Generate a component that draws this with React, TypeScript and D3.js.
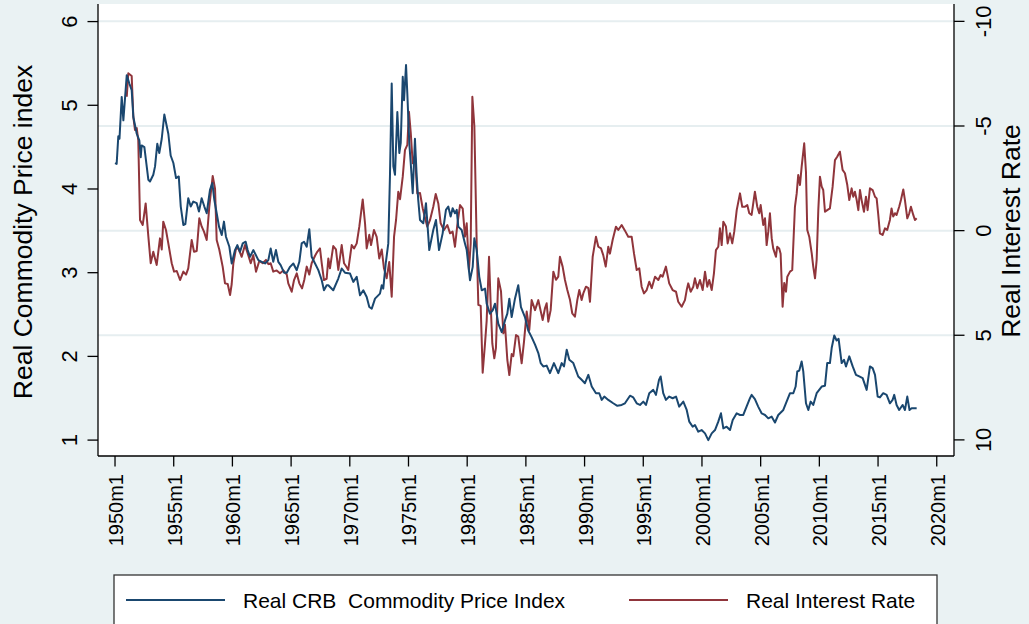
import React from "react";
import * as d3 from "d3";

// Real CRB Commodity Price Index (left axis)
const crbDates = [1950.00,1950.14,1950.28,1950.38,1950.57,1950.71,1951.00,1951.22,1951.42,1951.56,1951.85,1952.07,1952.19,1952.27,1952.50,1952.84,1952.98,1953.26,1953.41,1953.60,1953.77,1953.98,1954.20,1954.54,1954.74,1954.97,1955.20,1955.43,1955.60,1955.82,1955.99,1956.24,1956.45,1956.67,1956.96,1957.15,1957.38,1957.61,1957.81,1958.09,1958.29,1958.46,1958.66,1958.86,1959.09,1959.28,1959.45,1959.74,1959.94,1960.22,1960.42,1960.65,1960.88,1961.13,1961.30,1961.50,1961.78,1961.93,1962.21,1962.50,1962.78,1963.06,1963.26,1963.48,1963.71,1963.91,1964.11,1964.40,1964.63,1964.91,1965.19,1965.48,1965.70,1965.90,1966.10,1966.33,1966.55,1966.75,1967.04,1967.32,1967.61,1967.80,1968.03,1968.17,1968.59,1969.02,1969.31,1969.59,1970.02,1970.30,1970.59,1970.87,1971.15,1971.44,1971.66,1971.87,1972.15,1972.57,1972.72,1972.85,1973.06,1973.28,1973.42,1973.57,1973.71,1973.85,1974.05,1974.22,1974.34,1974.51,1974.62,1974.79,1974.90,1975.07,1975.19,1975.36,1975.55,1975.70,1975.83,1975.98,1976.26,1976.49,1976.77,1977.11,1977.34,1977.60,1977.91,1978.19,1978.39,1978.59,1978.76,1978.96,1979.11,1979.24,1979.53,1979.81,1979.96,1980.24,1980.47,1980.61,1980.81,1981.03,1981.24,1981.52,1981.66,1981.94,1982.17,1982.37,1982.65,1982.94,1983.22,1983.42,1983.59,1983.79,1984.07,1984.35,1984.58,1984.92,1985.20,1985.49,1985.78,1986.06,1986.26,1986.48,1986.77,1987.05,1987.39,1987.76,1988.05,1988.25,1988.48,1988.70,1989.04,1989.46,1989.75,1990.03,1990.32,1990.61,1990.97,1991.25,1991.46,1991.68,1992.02,1992.44,1992.79,1993.16,1993.44,1993.87,1994.15,1994.44,1994.72,1995.00,1995.23,1995.51,1995.85,1996.08,1996.34,1996.48,1996.70,1996.93,1997.21,1997.50,1997.79,1998.06,1998.41,1998.70,1998.92,1999.21,1999.40,1999.69,1999.97,2000.26,2000.54,2000.83,2001.11,2001.39,2001.62,2001.82,2002.10,2002.39,2002.62,2002.96,2003.24,2003.52,2003.80,2004.09,2004.23,2004.51,2004.79,2005.08,2005.37,2005.65,2005.94,2006.22,2006.50,2006.93,2007.21,2007.50,2007.78,2007.98,2008.12,2008.29,2008.49,2008.63,2008.86,2009.06,2009.26,2009.48,2009.77,2010.20,2010.48,2010.67,2010.90,2011.05,2011.27,2011.47,2011.64,2011.90,2012.10,2012.27,2012.55,2012.84,2013.12,2013.40,2013.69,2014.03,2014.31,2014.54,2014.74,2014.97,2015.16,2015.44,2015.73,2016.01,2016.24,2016.38,2016.58,2016.80,2017.09,2017.29,2017.49,2017.68,2017.86,2018.29];
const crbValues = [4.31,4.30,4.63,4.60,5.10,4.82,5.36,5.26,5.18,4.86,4.66,4.58,4.38,4.52,4.50,4.11,4.09,4.17,4.27,4.54,4.43,4.60,4.89,4.66,4.40,4.31,4.13,4.15,3.79,3.57,3.58,3.89,3.79,3.85,3.83,3.73,3.89,3.79,3.71,3.99,4.07,3.87,3.71,3.55,3.45,3.61,3.43,3.31,3.11,3.27,3.33,3.25,3.35,3.37,3.27,3.19,3.27,3.23,3.15,3.13,3.11,3.15,3.29,3.13,3.27,3.13,3.09,3.00,3.00,3.07,3.11,3.03,3.13,3.35,3.37,3.31,3.52,3.19,3.11,3.03,2.91,2.79,2.85,2.85,2.79,2.93,3.05,3.00,2.99,2.89,2.95,2.73,2.79,2.71,2.59,2.57,2.69,2.75,2.85,2.81,3.11,3.35,4.15,5.26,4.27,4.17,4.92,4.43,4.55,5.34,5.06,5.48,5.14,4.54,4.31,3.95,4.60,4.15,3.87,3.63,3.59,3.83,3.27,3.51,3.63,3.27,3.47,3.75,3.79,3.67,3.77,3.71,3.75,3.55,3.51,3.35,3.27,2.91,3.07,3.41,3.27,2.95,2.79,2.81,2.63,2.51,2.55,2.63,2.39,2.29,2.43,2.51,2.69,2.47,2.69,2.85,2.59,2.47,2.31,2.23,2.14,2.04,1.92,1.88,1.89,1.80,1.92,1.80,1.92,1.88,2.08,1.96,1.92,1.76,1.72,1.68,1.78,1.64,1.56,1.56,1.48,1.52,1.48,1.44,1.41,1.42,1.44,1.53,1.51,1.44,1.42,1.46,1.42,1.56,1.60,1.54,1.72,1.76,1.56,1.48,1.52,1.50,1.52,1.40,1.46,1.36,1.22,1.16,1.18,1.10,1.12,1.08,1.00,1.08,1.12,1.22,1.32,1.14,1.16,1.12,1.24,1.32,1.30,1.30,1.40,1.50,1.54,1.49,1.40,1.32,1.30,1.26,1.28,1.21,1.30,1.36,1.46,1.56,1.56,1.64,1.82,1.83,1.94,1.82,1.44,1.36,1.46,1.42,1.56,1.64,1.65,1.92,1.92,2.10,2.25,2.19,2.21,1.92,1.96,1.88,2.00,1.88,1.78,1.76,1.74,1.60,1.88,1.86,1.78,1.52,1.51,1.56,1.54,1.44,1.48,1.54,1.42,1.36,1.42,1.36,1.52,1.36,1.38,1.38];

// Real Interest Rate (right axis, reversed)
const rateDates = [1951.00,1951.13,1951.42,1951.56,1951.70,1951.85,1951.98,1952.13,1952.36,1952.61,1952.84,1953.04,1953.26,1953.55,1953.83,1953.98,1954.11,1954.34,1954.54,1954.83,1955.03,1955.26,1955.54,1955.82,1956.05,1956.24,1956.53,1956.73,1956.96,1957.18,1957.38,1957.58,1957.81,1958.03,1958.32,1958.52,1958.66,1958.88,1959.17,1959.37,1959.60,1959.80,1959.94,1960.08,1960.31,1960.50,1960.79,1961.07,1961.35,1961.56,1961.78,1962.01,1962.29,1962.58,1962.86,1963.06,1963.26,1963.48,1963.77,1964.05,1964.34,1964.63,1964.76,1965.05,1965.25,1965.48,1965.70,1965.93,1966.12,1966.33,1966.55,1966.75,1967.04,1967.23,1967.46,1967.61,1967.80,1968.03,1968.17,1968.31,1968.59,1968.82,1969.02,1969.31,1969.51,1969.68,1969.87,1970.16,1970.36,1970.59,1970.81,1971.10,1971.30,1971.44,1971.66,1971.81,1972.06,1972.29,1972.51,1972.72,1972.91,1973.14,1973.36,1973.57,1973.77,1973.94,1974.13,1974.28,1974.51,1974.70,1974.90,1975.04,1975.19,1975.36,1975.55,1975.75,1975.98,1976.21,1976.41,1976.60,1976.83,1977.11,1977.32,1977.54,1977.74,1978.02,1978.31,1978.54,1978.76,1978.96,1979.16,1979.39,1979.62,1979.81,1979.96,1980.15,1980.30,1980.44,1980.61,1980.81,1980.95,1981.15,1981.32,1981.52,1981.66,1981.86,1982.00,1982.14,1982.31,1982.45,1982.65,1982.88,1983.08,1983.22,1983.42,1983.59,1983.79,1983.93,1984.16,1984.35,1984.64,1984.84,1985.07,1985.29,1985.49,1985.78,1986.06,1986.43,1986.63,1986.77,1986.91,1987.11,1987.34,1987.56,1987.76,1987.90,1988.13,1988.33,1988.53,1988.76,1988.95,1989.18,1989.38,1989.55,1989.75,1989.89,1990.12,1990.32,1990.46,1990.69,1990.97,1991.17,1991.40,1991.59,1991.80,1992.02,1992.16,1992.39,1992.67,1992.87,1993.16,1993.44,1993.72,1994.01,1994.21,1994.44,1994.66,1994.86,1995.06,1995.29,1995.51,1995.72,1996.00,1996.28,1996.48,1996.65,1996.93,1997.21,1997.50,1997.79,1997.98,1998.27,1998.55,1998.70,1998.83,1999.04,1999.26,1999.40,1999.60,1999.83,2000.06,2000.26,2000.45,2000.62,2000.83,2001.02,2001.19,2001.39,2001.53,2001.68,2001.82,2002.04,2002.19,2002.39,2002.58,2002.75,2002.96,2003.24,2003.43,2003.66,2003.86,2004.03,2004.23,2004.51,2004.71,2004.88,2005.00,2005.22,2005.37,2005.51,2005.65,2005.79,2005.94,2006.07,2006.30,2006.41,2006.58,2006.70,2006.87,2007.01,2007.16,2007.27,2007.50,2007.69,2007.92,2008.07,2008.20,2008.35,2008.49,2008.71,2008.86,2008.97,2009.14,2009.35,2009.48,2009.63,2009.77,2009.91,2010.05,2010.20,2010.33,2010.48,2010.67,2010.90,2011.13,2011.33,2011.52,2011.75,2011.98,2012.18,2012.38,2012.55,2012.75,2012.89,2013.03,2013.18,2013.32,2013.46,2013.60,2013.80,2013.97,2014.11,2014.31,2014.54,2014.74,2014.88,2015.02,2015.16,2015.39,2015.59,2015.78,2016.01,2016.15,2016.29,2016.44,2016.58,2016.80,2016.95,2017.15,2017.29,2017.49,2017.66,2017.80,2018.00,2018.14,2018.29];
const rateValues = [-6.40,-7.52,-7.39,-5.44,-4.81,-4.90,-4.33,-0.51,-0.27,-1.30,0.29,1.56,1.01,1.64,0.37,0.90,-0.43,-0.03,0.61,1.56,1.96,1.93,2.36,1.96,2.10,1.80,0.45,1.01,0.97,-0.59,-0.20,0.05,0.45,-1.14,-2.61,-2.00,0.45,0.90,1.72,2.52,2.55,3.08,2.55,1.56,0.85,0.85,1.25,0.69,1.17,1.56,1.17,1.96,1.45,1.56,1.40,1.60,1.56,1.96,1.90,2.04,1.90,2.10,2.52,2.92,2.36,2.04,2.52,2.76,2.36,1.72,2.10,1.56,1.20,1.01,0.85,1.56,2.36,2.30,1.33,1.80,0.74,0.90,1.88,0.69,1.56,1.70,1.88,0.69,0.85,0.61,-0.19,-1.49,-0.33,0.85,0.20,0.69,-0.03,0.30,1.33,0.90,1.80,2.28,1.50,3.16,0.29,-0.51,-1.86,-1.50,-2.58,-3.85,-4.10,-5.68,-4.70,-3.22,-3.60,-1.78,-1.80,-1.07,-0.60,-0.19,-0.50,-1.14,-1.75,-1.30,-0.35,-0.03,-0.27,0.13,0.05,0.77,-0.27,-1.22,-1.05,0.29,-0.35,1.88,0.61,-6.40,-5.00,0.61,3.55,3.60,6.79,5.39,4.30,1.25,3.50,5.39,6.10,5.60,2.28,2.90,4.91,4.50,6.18,6.90,5.90,6.00,4.99,5.06,6.34,5.30,3.87,4.75,3.32,3.80,3.32,4.27,3.70,3.47,4.35,3.80,1.96,2.35,2.20,1.25,1.72,2.36,2.84,3.32,3.95,4.11,3.32,2.84,3.32,3.00,2.68,2.75,3.40,1.25,0.29,0.77,0.85,1.17,1.72,0.77,1.10,0.45,-0.19,-0.03,-0.27,0.00,0.29,0.29,1.09,1.88,1.80,2.68,3.00,2.84,2.44,2.75,2.20,2.36,2.12,2.20,1.72,2.52,2.84,2.92,3.40,3.64,3.32,2.84,2.52,2.92,2.68,2.28,2.75,2.36,2.84,1.96,2.68,2.36,2.84,2.04,0.93,0.77,-0.11,0.69,-0.43,-0.20,0.61,0.13,0.61,0.05,-0.98,-1.78,-1.14,-1.14,-1.22,-0.83,-0.75,-1.86,-1.14,-0.83,-1.22,-0.27,-0.59,0.69,0.05,-0.83,0.36,0.85,1.25,0.77,0.85,1.10,3.64,2.50,2.92,2.20,1.96,1.88,-1.14,-1.78,-2.66,-2.18,-3.05,-4.17,-2.80,-0.03,0.29,1.09,1.72,2.28,1.40,-0.98,-2.58,-2.10,-1.94,-0.90,-0.98,-1.06,-2.10,-3.37,-3.53,-3.77,-2.90,-2.74,-2.18,-1.46,-2.02,-1.62,-1.86,-1.46,-0.98,-1.94,-1.46,-0.90,-1.62,-0.98,-2.02,-1.94,-1.62,-1.54,-0.75,0.13,0.21,-0.11,-0.03,-0.51,-1.06,-0.67,-0.83,-0.75,-1.14,-1.46,-1.97,-1.46,-0.59,-0.83,-1.14,-0.75,-0.51,-0.59];

const xTickYears = [1950, 1955, 1960, 1965, 1970, 1975, 1980, 1985, 1990, 1995, 2000, 2005, 2010, 2015, 2020];
const leftTicks = [1, 2, 3, 4, 5, 6];
const rightTicks = [-10, -5, 0, 5, 10];
const rightGrid = [-10, -5, 0, 5];
const legendLabels = ["Real CRB  Commodity Price Index", "Real Interest Rate"];

const W = 1029, H = 624;
const PL = 98, PR = 954, PT = 4, PB = 456;
const BLUE = "#1a476f", RED = "#90353b", BG = "#eaf2f3";
const FONT = "'Liberation Sans', Arial, Helvetica, sans-serif";

export default function App() {
  const x = d3.scaleLinear().domain([1948.55, 2021.47]).range([PL, PR]);
  const yL = d3.scaleLinear().domain([0.81, 6.21]).range([PB, PT]);
  const yR = d3.scaleLinear().domain([10.77, -10.83]).range([PB, PT]);

  const crb = crbDates.map((d, i) => [d, crbValues[i]] as [number, number]);
  const rate = rateDates.map((d, i) => [d, rateValues[i]] as [number, number]);
  const lineL = d3.line<[number, number]>().x(d => x(d[0])).y(d => yL(d[1]));
  const lineR = d3.line<[number, number]>().x(d => x(d[0])).y(d => yR(d[1]));

  return (
    <svg width={W} height={H} style={{ position: "absolute", left: 0, top: 0, display: "block" }} fontFamily={FONT}>
      <rect x={0} y={0} width={W} height={H} fill={BG} />
      <rect x={PL} y={PT} width={PR - PL} height={PB - PT} fill="#ffffff" />
      {rightGrid.map(v => (
        <line key={"g" + v} x1={PL} x2={PR} y1={yR(v)} y2={yR(v)} stroke="#e6eef0" strokeWidth={2} />
      ))}
      <path d={lineR(rate) || ""} fill="none" stroke={RED} strokeWidth={2} strokeLinejoin="round" />
      <path d={lineL(crb) || ""} fill="none" stroke={BLUE} strokeWidth={2} strokeLinejoin="round" />

      {/* axes */}
      <line x1={PL} x2={PL} y1={PT} y2={PB} stroke="#000" strokeWidth={1.3} />
      <line x1={PR} x2={PR} y1={PT} y2={PB} stroke="#000" strokeWidth={1.3} />
      <line x1={PL} x2={PR} y1={PB} y2={PB} stroke="#000" strokeWidth={1.3} />

      {leftTicks.map(v => (
        <g key={"l" + v}>
          <line x1={PL - 10.5} x2={PL} y1={yL(v)} y2={yL(v)} stroke="#000" strokeWidth={1.3} />
          <text transform={`translate(77,${yL(v)}) rotate(-90)`} textAnchor="middle" fontSize={22} fill="#000">{v}</text>
        </g>
      ))}
      {rightTicks.map(v => (
        <g key={"r" + v}>
          <line x1={PR} x2={PR + 10.5} y1={yR(v)} y2={yR(v)} stroke="#000" strokeWidth={1.3} />
          <text transform={`translate(991,${yR(v)}) rotate(-90)`} textAnchor="middle" fontSize={22} fill="#000">{v}</text>
        </g>
      ))}
      {xTickYears.map(yr => (
        <g key={"x" + yr}>
          <line x1={x(yr)} x2={x(yr)} y1={PB} y2={PB + 10.5} stroke="#000" strokeWidth={1.3} />
          <text transform={`translate(${x(yr) + 8},474) rotate(-90)`} textAnchor="end" fontSize={20} fill="#000">{`${yr}m1`}</text>
        </g>
      ))}

      <text transform="translate(32,232) rotate(-90)" textAnchor="middle" fontSize={26.5} fill="#000">Real Commodity Price index</text>
      <text transform="translate(1020,231) rotate(-90)" textAnchor="middle" fontSize={26.5} fill="#000">Real Interest Rate</text>

      {/* legend */}
      <rect x={114} y={575} width={823} height={80} fill="#ffffff" stroke="#333" strokeWidth={1.3} />
      <line x1={126} x2={225} y1={600} y2={600} stroke={BLUE} strokeWidth={2} />
      <text x={243} y={608} fontSize={21} fill="#000" style={{ whiteSpace: "pre" }}>{legendLabels[0]}</text>
      <line x1={629} x2={728} y1={600} y2={600} stroke={RED} strokeWidth={2} />
      <text x={746} y={608} fontSize={21} fill="#000" style={{ whiteSpace: "pre" }}>{legendLabels[1]}</text>
    </svg>
  );
}
